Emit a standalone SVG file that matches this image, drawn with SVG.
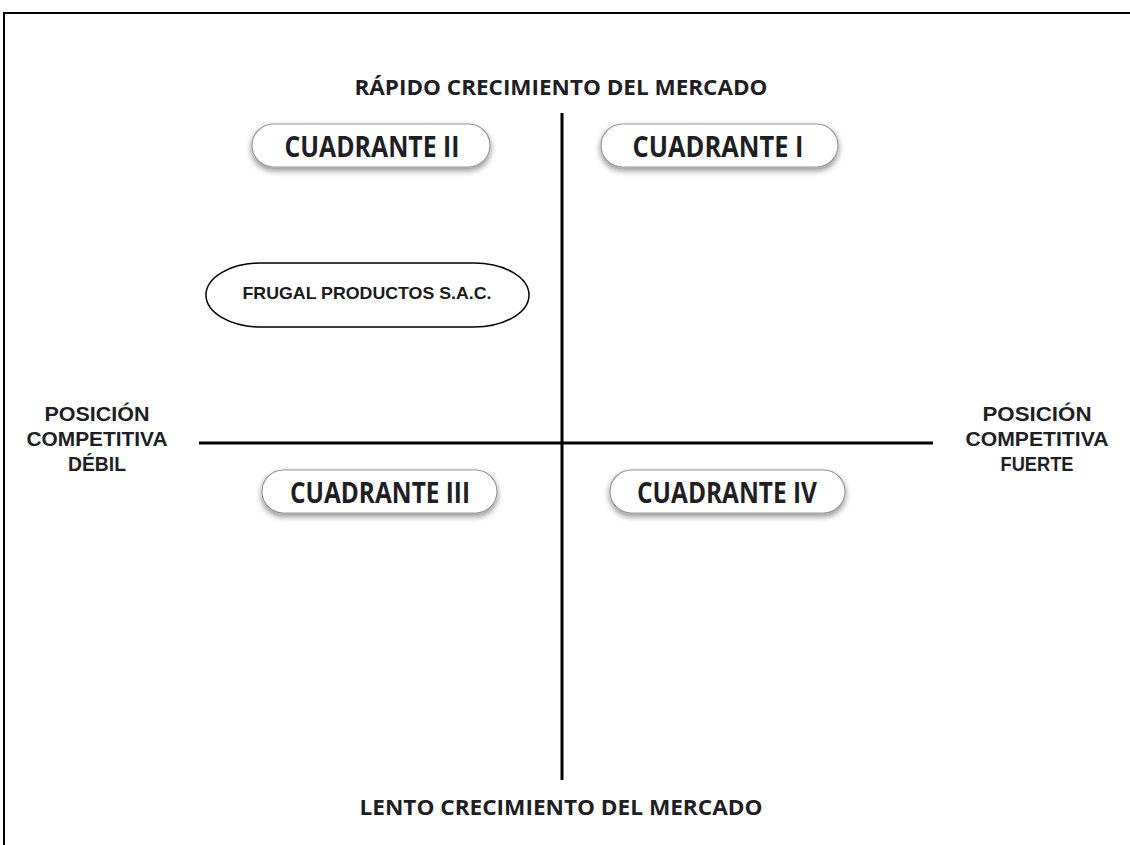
<svg xmlns="http://www.w3.org/2000/svg" width="1130" height="845" viewBox="0 0 1130 845">
  <defs>
    <filter id="shadow" x="-20%" y="-50%" width="140%" height="200%">
      <feGaussianBlur in="SourceAlpha" stdDeviation="3"/>
      <feOffset dx="0" dy="3" result="b"/>
      <feComponentTransfer><feFuncA type="linear" slope="0.45"/></feComponentTransfer>
      <feMerge><feMergeNode/><feMergeNode in="SourceGraphic"/></feMerge>
    </filter>
    <style>
      .pill { fill: #ffffff; stroke: #9a9a9a; stroke-width: 1.2; filter: url(#shadow); }
      .pt { font-family: "Open Sans", "Liberation Sans", sans-serif; font-weight: bold; font-size: 28px; fill: #1e1e24; text-anchor: middle; }
      .ax { font-family: "Open Sans", "Liberation Sans", sans-serif; font-weight: bold; font-size: 22px; fill: #1e1e24; text-anchor: middle; }
      .sx { font-family: "Liberation Sans", Arial, sans-serif; font-weight: bold; font-size: 21px; fill: #1e1e24; text-anchor: middle; }
      .axis { stroke: #000; stroke-width: 3; fill: none; }
    </style>
  </defs>
  <rect width="1130" height="845" fill="#ffffff"/>
  <path d="M4 845 V13 H1130" fill="none" stroke="#000" stroke-width="2"/>

  <g id="connectors">
    <line class="axis" x1="562" y1="113" x2="562" y2="780"/>
    <line class="axis" x1="199" y1="443" x2="933" y2="443"/>
  </g>

  <g id="label-top">
    <text class="ax" x="561" y="95" textLength="413" lengthAdjust="spacingAndGlyphs">RÁPIDO CRECIMIENTO DEL MERCADO</text>
  </g>
  <g id="label-bottom">
    <text class="ax" x="561" y="815" textLength="403" lengthAdjust="spacingAndGlyphs">LENTO CRECIMIENTO DEL MERCADO</text>
  </g>
  <g id="label-left">
    <text class="sx" x="97" y="421" textLength="105" lengthAdjust="spacingAndGlyphs">POSICIÓN</text>
    <text class="sx" x="97" y="446" textLength="141" lengthAdjust="spacingAndGlyphs">COMPETITIVA</text>
    <text class="sx" x="97" y="471" textLength="58" lengthAdjust="spacingAndGlyphs">DÉBIL</text>
  </g>
  <g id="label-right">
    <text class="sx" x="1037" y="421" textLength="109" lengthAdjust="spacingAndGlyphs">POSICIÓN</text>
    <text class="sx" x="1037" y="446" textLength="143" lengthAdjust="spacingAndGlyphs">COMPETITIVA</text>
    <text class="sx" x="1037" y="471" textLength="73" lengthAdjust="spacingAndGlyphs">FUERTE</text>
  </g>

  <g id="cuadrante-ii">
    <rect class="pill" x="252" y="124" width="238" height="43" rx="21.5"/>
    <text class="pt" x="372" y="157" textLength="175" lengthAdjust="spacingAndGlyphs">CUADRANTE II</text>
  </g>
  <g id="cuadrante-i">
    <rect class="pill" x="601" y="124" width="237" height="43" rx="21.5"/>
    <text class="pt" x="718" y="157" textLength="171" lengthAdjust="spacingAndGlyphs">CUADRANTE I</text>
  </g>
  <g id="cuadrante-iii">
    <rect class="pill" x="262" y="470" width="235" height="43" rx="21.5"/>
    <text class="pt" x="380" y="503" textLength="180" lengthAdjust="spacingAndGlyphs">CUADRANTE III</text>
  </g>
  <g id="cuadrante-iv">
    <rect class="pill" x="610" y="470" width="235" height="43" rx="21.5"/>
    <text class="pt" x="727" y="503" textLength="180" lengthAdjust="spacingAndGlyphs">CUADRANTE IV</text>
  </g>

  <g id="frugal">
    <rect x="206" y="263" width="323" height="64" rx="55" ry="32" fill="#ffffff" stroke="#000" stroke-width="1.5"/>
    <text x="367" y="299" font-family="'Liberation Sans', Arial, sans-serif" font-weight="bold" font-size="17" fill="#1a1a1a" text-anchor="middle" textLength="249" lengthAdjust="spacingAndGlyphs">FRUGAL PRODUCTOS S.A.C.</text>
  </g>
</svg>
